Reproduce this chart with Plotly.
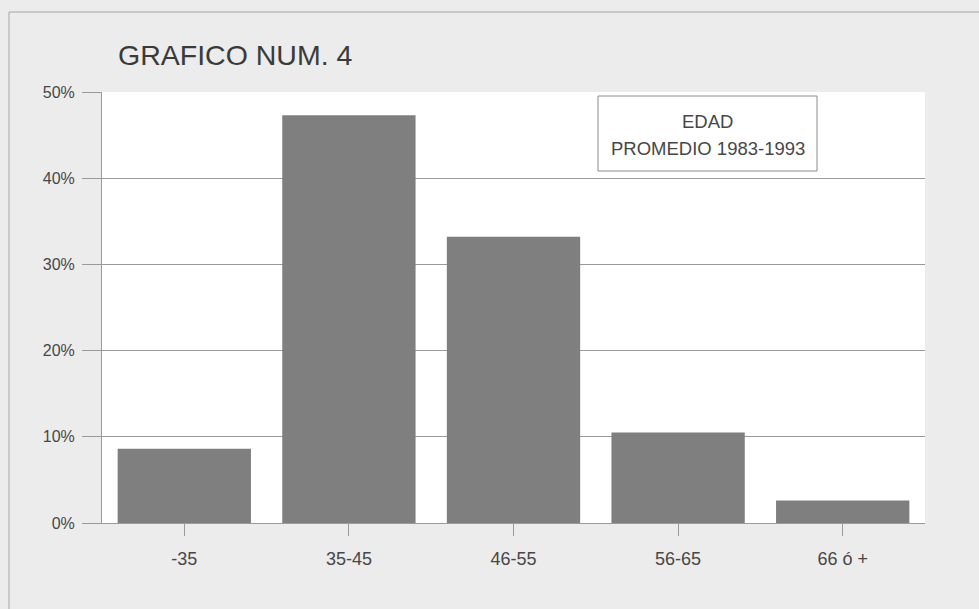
import plotly.graph_objects as go

# Age brackets and their share of the total (average 1983-1993)
age_groups = ["-35", "35-45", "46-55", "56-65", "66 ó +"]
share_pct = [8.6, 47.3, 33.2, 10.5, 2.6]
y_ticks = [0, 10, 20, 30, 40, 50]
y_tick_labels = ["0%", "10%", "20%", "30%", "40%", "50%"]
legend_lines = ["EDAD", "PROMEDIO 1983-1993"]

W, H = 979, 609
L, R, T, B = 102, 54, 92, 86
PW, PH = W - L - R, H - T - B


def px_x(x):
    return (x - L) / PW


def px_y(y):
    return (H - B - y) / PH


FONT = "Liberation Sans, Arial, Helvetica, sans-serif"
TEXT = "#474747"
LINE = "#9a9a9a"

fig = go.Figure(
    go.Bar(
        x=age_groups,
        y=share_pct,
        marker=dict(color="#7f7f7f", line=dict(width=0)),
        hoverinfo="skip",
    )
)

# caption box in the upper right of the plot
box_shape = dict(
    type="rect",
    xref="paper",
    yref="paper",
    x0=px_x(598),
    x1=px_x(817),
    y0=px_y(171),
    y1=px_y(96),
    line=dict(color="#8c8c8c", width=1),
    fillcolor="#ffffff",
    layer="above",
)

# outer frame of the figure panel
frame_shape = dict(
    type="rect",
    xref="paper",
    yref="paper",
    x0=px_x(9),
    x1=px_x(1010),
    y0=px_y(640),
    y1=px_y(12),
    line=dict(color="#a6a6a6", width=1),
    fillcolor="rgba(0,0,0,0)",
    layer="below",
)

caption_annotations = [
    dict(
        text=line,
        xref="paper",
        yref="paper",
        x=px_x(707.5),
        y=px_y(yc),
        xanchor="center",
        yanchor="middle",
        showarrow=False,
        font=dict(size=18.5, color=TEXT, family=FONT),
    )
    for line, yc in zip(legend_lines, [121, 149])
]

fig.update_layout(
    width=W,
    height=H,
    margin=dict(l=L, r=R, t=T, b=B, pad=0),
    paper_bgcolor="#ececec",
    plot_bgcolor="#ffffff",
    bargap=0.19,
    showlegend=False,
    font=dict(family=FONT, color=TEXT),
    xaxis=dict(
        showgrid=False,
        showline=True,
        linecolor=LINE,
        linewidth=1,
        ticks="outside",
        ticklen=12,
        tickcolor=LINE,
        tickfont=dict(size=18, color=TEXT, family=FONT),
        ticklabelstandoff=7,
        fixedrange=True,
    ),
    yaxis=dict(
        range=[0, 50],
        tickvals=y_ticks,
        ticktext=y_tick_labels,
        showgrid=True,
        gridcolor=LINE,
        gridwidth=1,
        showline=True,
        linecolor=LINE,
        linewidth=1,
        ticks="outside",
        ticklen=19,
        tickcolor=LINE,
        tickfont=dict(size=16, color=TEXT, family=FONT),
        ticklabelstandoff=4,
        zeroline=False,
        fixedrange=True,
    ),
    shapes=[frame_shape, box_shape],
    annotations=[
        dict(
            text="GRAFICO NUM. 4",
            xref="paper",
            yref="paper",
            x=px_x(116),
            y=px_y(55),
            xanchor="left",
            yanchor="middle",
            showarrow=False,
            font=dict(size=28.5, color="#3a3a3a", family=FONT),
        ),
        *caption_annotations,
    ],
)

fig.write_html("out.html")
